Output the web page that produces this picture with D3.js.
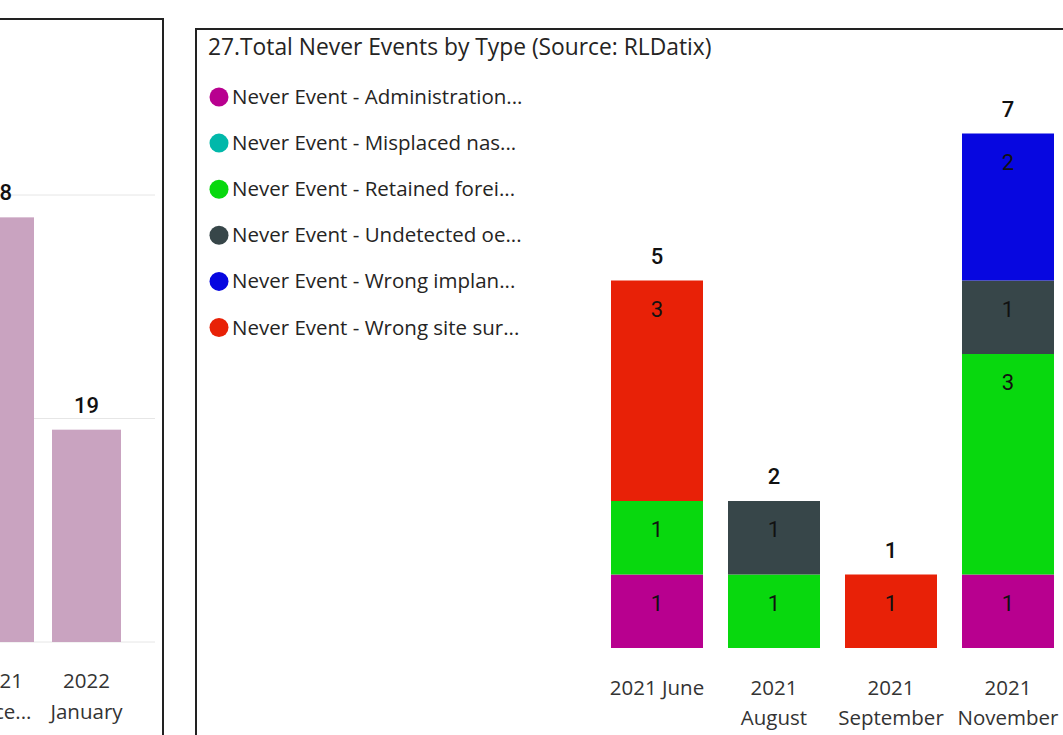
<!DOCTYPE html>
<html><head><meta charset="utf-8">
<script src="https://cdn.jsdelivr.net/npm/d3@7"></script>
<style>
html,body{margin:0;padding:0;background:#fff;}
svg{display:block;}
</style></head>
<body>
<svg id="chart" width="1063" height="735"></svg>
<script>
// ---- Left (partially visible) chart data ----
const leftCategories = [["2021", "Dece..."], ["2022", "January"]];
const leftValues = [38, 19];
const leftTicks = [0, 20, 40];

// ---- Right chart data ----
const title = "27.Total Never Events by Type (Source: RLDatix)";
const seriesNames = [
  "Never Event - Administration...",
  "Never Event - Misplaced nas...",
  "Never Event - Retained forei...",
  "Never Event - Undetected oe...",
  "Never Event - Wrong implan...",
  "Never Event - Wrong site sur..."
];
const seriesColors = ["#B8008F", "#01B8AA", "#08D80E", "#374649", "#0707E0", "#E82107"];
const months = [["2021 June"], ["2021", "August"], ["2021", "September"], ["2021", "November"]];
const administration = [1, 0, 0, 1];
const misplaced      = [0, 0, 0, 0];
const retained       = [1, 1, 0, 3];
const undetected     = [0, 1, 0, 1];
const wrongImplant   = [0, 0, 0, 2];
const wrongSite      = [3, 0, 1, 0];

const svg = d3.select("#chart");
const FONT = "'Segoe UI', 'Open Sans', 'Noto Sans', sans-serif";
const NUMFONT = "Roboto, 'DejaVu Sans', sans-serif";

// ================= LEFT PANEL =================
const L = svg.append("g");
L.append("path").attr("d", "M-5,19 H163 V740").attr("fill", "none").attr("stroke", "#222").attr("stroke-width", 2);
const lx = d3.scaleBand().domain(leftCategories.map((d, i) => i)).range([-35, 121]).paddingInner(18 / 87).paddingOuter(0);
const ly = d3.scaleLinear().domain([0, 40]).range([642, 195]);
L.selectAll("line.grid").data(leftTicks).join("line")
  .attr("x1", -5).attr("x2", 155).attr("y1", d => ly(d)).attr("y2", d => ly(d))
  .attr("stroke", "#e6e6e6").attr("stroke-width", 1);
L.selectAll("rect").data(leftValues).join("rect")
  .attr("x", (d, i) => lx(i)).attr("width", lx.bandwidth())
  .attr("y", d => ly(d)).attr("height", d => ly(0) - ly(d)).attr("fill", "#C9A3C0");
L.selectAll("text.val").data(leftValues).join("text")
  .attr("x", (d, i) => lx(i) + lx.bandwidth() / 2).attr("y", d => ly(d) - 17)
  .attr("text-anchor", "middle").attr("font-family", NUMFONT).attr("font-size", 22).attr("font-weight", 500)
  .attr("fill", "#111").text(d => d);
leftCategories.forEach((lines, i) => {
  lines.forEach((t, j) => {
    L.append("text").attr("x", lx(i) + lx.bandwidth() / 2).attr("y", 688 + j * 31)
      .attr("text-anchor", "middle").attr("font-family", FONT).attr("font-size", 20.5).attr("fill", "#333").text(t);
  });
});

// ================= RIGHT PANEL =================
const R = svg.append("g");
R.append("path").attr("d", "M196,740 V29 H1070").attr("fill", "none").attr("stroke", "#222").attr("stroke-width", 2);
R.append("text").attr("x", 208).attr("y", 55).attr("font-family", FONT).attr("font-size", 22.8)
  .attr("fill", "#252423").text(title);

// legend
const leg = R.selectAll("g.leg").data(seriesNames).join("g").attr("class", "leg")
  .attr("transform", (d, i) => `translate(0,${97 + i * 46.1})`);
leg.append("circle").attr("cx", 219).attr("cy", 0).attr("r", 9.5).attr("fill", (d, i) => seriesColors[i]);
leg.append("text").attr("x", 232).attr("y", 7).attr("font-family", FONT).attr("font-size", 20.5)
  .attr("fill", "#252423").text(d => d);

// stacked bars
const table = months.map((m, i) => ({
  idx: i,
  s0: administration[i], s1: misplaced[i], s2: retained[i],
  s3: undetected[i], s4: wrongImplant[i], s5: wrongSite[i]
}));
const keys = ["s0", "s1", "s2", "s3", "s4", "s5"];
const stack = d3.stack().keys(keys)(table);
const x = d3.scaleBand().domain(months.map((d, i) => i)).range([611, 1054]).paddingInner(25 / 117).paddingOuter(0);
const y = d3.scaleLinear().domain([0, 7]).range([648, 133.5]);

const layers = R.selectAll("g.layer").data(stack).join("g").attr("class", "layer")
  .attr("fill", (d, i) => seriesColors[i]);
layers.selectAll("rect").data(d => d.filter(p => p[1] - p[0] > 0)).join("rect")
  .attr("x", p => x(p.data.idx)).attr("width", x.bandwidth())
  .attr("y", p => y(p[1])).attr("height", p => y(p[0]) - y(p[1]));
layers.selectAll("text").data(d => d.filter(p => p[1] - p[0] > 0)).join("text")
  .attr("x", p => x(p.data.idx) + x.bandwidth() / 2).attr("y", p => y(p[1]) + 36)
  .attr("text-anchor", "middle").attr("font-family", NUMFONT).attr("font-size", 22)
  .attr("fill", "#111").text(p => p[1] - p[0]);

// totals
const totals = table.map(r => keys.reduce((s, k) => s + r[k], 0));
R.selectAll("text.total").data(totals).join("text").attr("class", "total")
  .attr("x", (d, i) => x(i) + x.bandwidth() / 2).attr("y", d => y(d) - 17)
  .attr("text-anchor", "middle").attr("font-family", NUMFONT).attr("font-size", 22).attr("font-weight", 500)
  .attr("fill", "#111").text(d => d);

// x labels
months.forEach((lines, i) => {
  lines.forEach((t, j) => {
    R.append("text").attr("x", x(i) + x.bandwidth() / 2).attr("y", 695 + j * 30)
      .attr("text-anchor", "middle").attr("font-family", FONT).attr("font-size", 20.5).attr("fill", "#333").text(t);
  });
});
</script>
</body></html>
